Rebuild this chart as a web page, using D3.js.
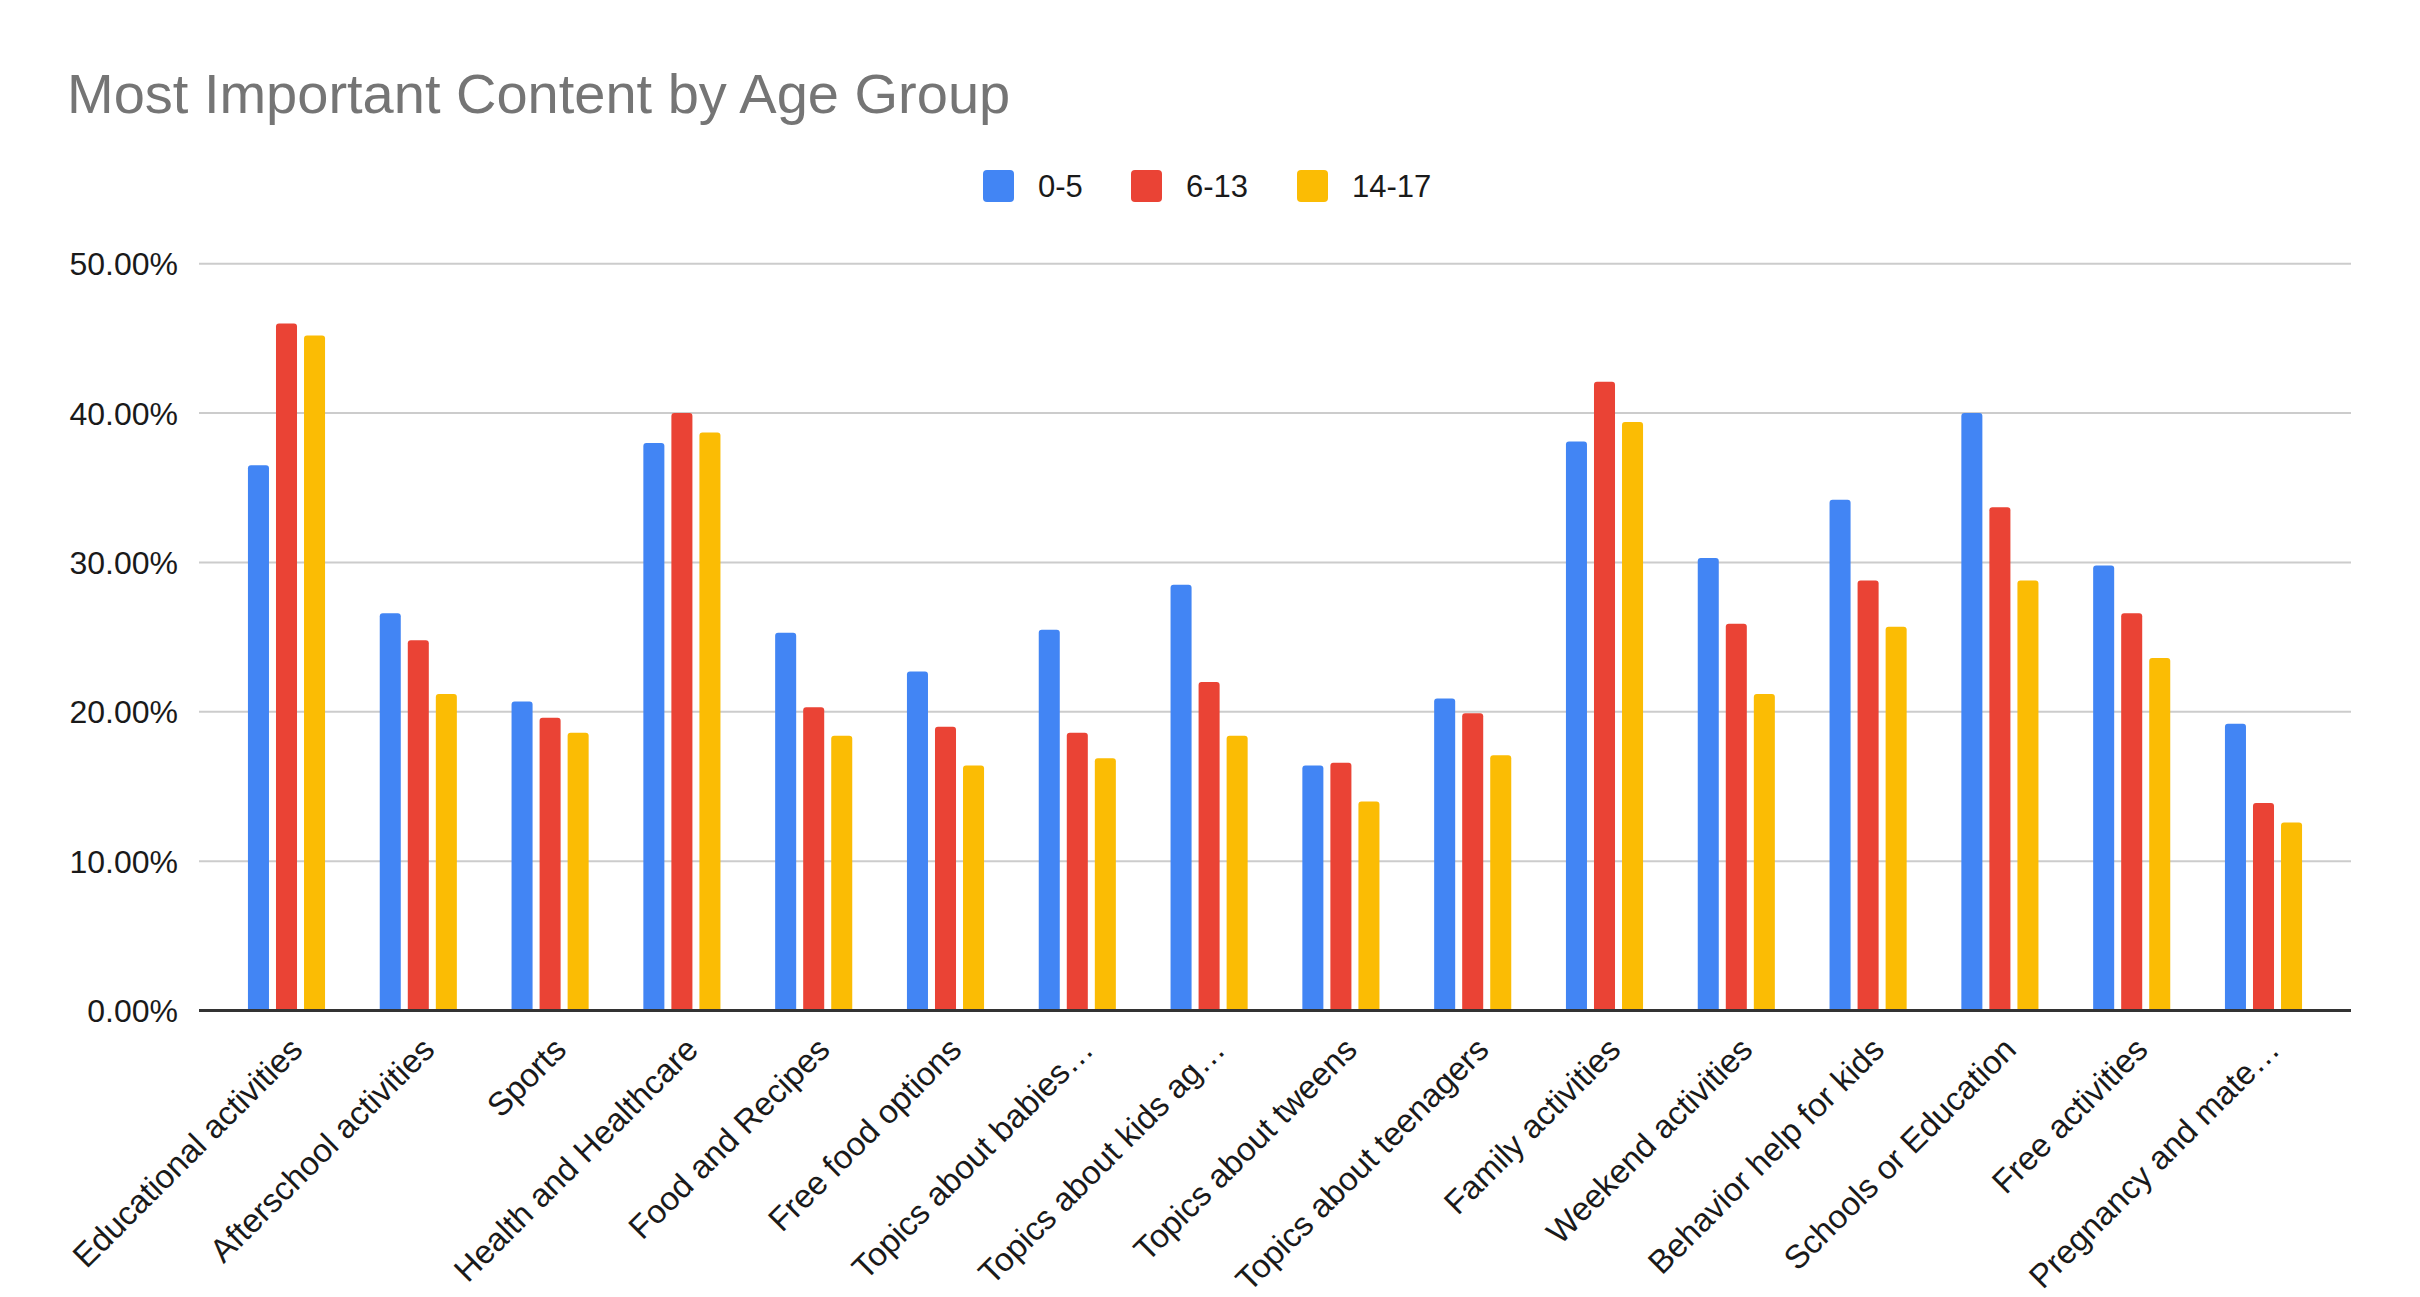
<!DOCTYPE html>
<html>
<head>
<meta charset="utf-8">
<script src="https://cdn.jsdelivr.net/npm/d3@7"></script>
<style>
  body { margin: 0; background: #fff; }
  text { font-family: "Liberation Sans", Arial, sans-serif; }
</style>
</head>
<body>
<svg width="2420" height="1297"></svg>
<script>
var categories = ["Educational activities", "Afterschool activities", "Sports", "Health and Healthcare",
    "Food and Recipes", "Free food options", "Topics about babies…", "Topics about kids ag…",
    "Topics about tweens", "Topics about teenagers", "Family activities", "Weekend activities",
    "Behavior help for kids", "Schools or Education", "Free activities", "Pregnancy and mate…"];
var seriesNames = ["0-5", "6-13", "14-17"];
var age0to5 = [36.5, 26.6, 20.7, 38.0, 25.3, 22.7, 25.5, 28.5, 16.4, 20.9, 38.1, 30.3, 34.2, 40.0, 29.8, 19.2];
var age6to13 = [46.0, 24.8, 19.6, 40.0, 20.3, 19.0, 18.6, 22.0, 16.6, 19.9, 42.1, 25.9, 28.8, 33.7, 26.6, 13.9];
var age14to17 = [45.2, 21.2, 18.6, 38.7, 18.4, 16.4, 16.9, 18.4, 14.0, 17.1, 39.4, 21.2, 25.7, 28.8, 23.6, 12.6];
var yTicks = [0, 10, 20, 30, 40, 50];
var colors = ["#4285f4", "#ea4335", "#fbbc04"];

var seriesValues = [age0to5, age6to13, age14to17];
var svg = d3.select("svg");

var y = d3.scaleLinear().domain([0, 50]).range([1010.6, 263.7]);
var x0 = d3.scaleBand().domain(categories).range([220.6, 2329.4]).paddingInner(0.415).paddingOuter(0.2075);
var x1 = d3.scaleBand().domain(seriesNames).range([0, x0.bandwidth()]).paddingInner(0.25);
var color = d3.scaleOrdinal().domain(seriesNames).range(colors);

// title
svg.append("text").attr("x", 67).attr("y", 113).style("font-size", "56px").style("fill", "#757575")
    .text("Most Important Content by Age Group");

// legend
var legendX = [983, 1131, 1297];
var legend = svg.selectAll(".legend").data(seriesNames).enter().append("g").attr("class", "legend")
    .attr("transform", function (d, i) { return "translate(" + legendX[i] + ",170)"; });
legend.append("rect").attr("width", 31).attr("height", 32).attr("rx", 4).style("fill", function (d) { return color(d); });
legend.append("text").attr("x", 55).attr("y", 27).style("font-size", "31px").style("fill", "#1a1a1a").text(function (d) { return d; });

// grid + y labels
svg.selectAll(".grid").data(yTicks.slice(1)).enter().append("line").attr("class", "grid")
    .attr("x1", 199).attr("x2", 2351).attr("y1", function (d) { return y(d); }).attr("y2", function (d) { return y(d); })
    .style("stroke", "#cccccc").style("stroke-width", 2);
svg.selectAll(".ylab").data(yTicks).enter().append("text").attr("class", "ylab")
    .attr("x", 178).attr("y", function (d) { return y(d); }).attr("dy", "0.36em").attr("text-anchor", "end")
    .style("font-size", "32px").style("fill", "#1a1a1a")
    .text(function (d) { return d3.format(".2f")(d) + "%"; });

// bars
function topRounded(x, yTop, w, h, r) {
    return "M" + x + "," + (yTop + h) + "V" + (yTop + r) + "Q" + x + "," + yTop + " " + (x + r) + "," + yTop +
        "H" + (x + w - r) + "Q" + (x + w) + "," + yTop + " " + (x + w) + "," + (yTop + r) + "V" + (yTop + h) + "Z";
}
var groups = svg.selectAll(".group").data(categories).enter().append("g").attr("class", "group")
    .attr("transform", function (d) { return "translate(" + x0(d) + ",0)"; });
groups.selectAll("path").data(function (d, i) {
    return seriesNames.map(function (s, j) { return { key: s, value: seriesValues[j][i] }; });
}).enter().append("path")
    .attr("d", function (d) { return topRounded(x1(d.key), y(d.value), x1.bandwidth(), y(0) - y(d.value), 3); })
    .style("fill", function (d) { return color(d.key); });

// baseline
svg.append("line").attr("x1", 199).attr("x2", 2351).attr("y1", y(0)).attr("y2", y(0))
    .style("stroke", "#333").style("stroke-width", 3);

// x labels
svg.selectAll(".xlab").data(categories).enter().append("text").attr("class", "xlab")
    .attr("text-anchor", "end").style("font-size", "33px").style("fill", "#1a1a1a")
    .attr("transform", function (d) {
        return "translate(" + (x0(d) + x0.bandwidth() / 2 + 18) + "," + (y(0) + 41) + ") rotate(-45)";
    })
    .text(function (d) { return d; });
</script>
</body>
</html>
